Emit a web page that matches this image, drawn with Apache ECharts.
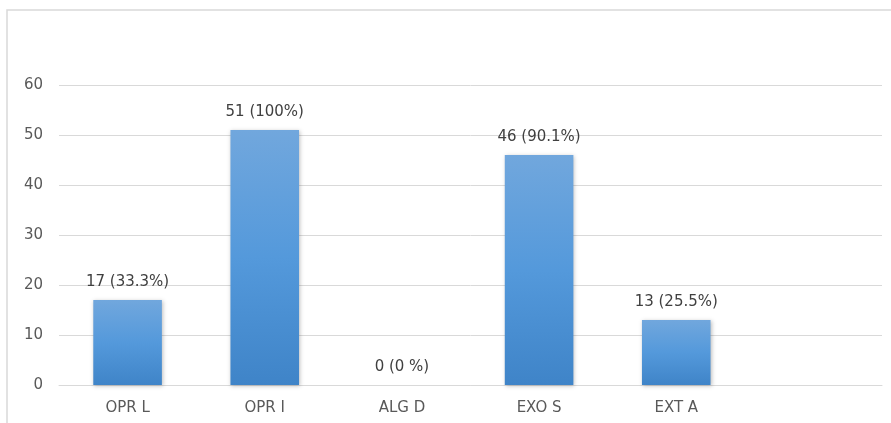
<!DOCTYPE html>
<html>
<head>
<meta charset="utf-8">
<script src="https://cdn.jsdelivr.net/npm/echarts@6/dist/echarts.min.js"></script>
<style>
html,body{margin:0;padding:0;background:#fff;}
#chart{width:891px;height:423px;}
</style>
</head>
<body>
<div id="chart"></div>
<script>
const categories = ['OPR L', 'OPR I', 'ALG D', 'EXO S', 'EXT A', ''];
const counts = [17, 51, 0, 46, 13, null];
const percentLabels = ['33.3%', '100%', '0 %', '90.1%', '25.5%', ''];
const yTicks = { min: 0, max: 60, interval: 10 };

const chart = echarts.init(document.getElementById('chart'));
const font = 'DejaVu Sans';
chart.setOption({
  animation: false,
  grid: { left: 59, right: 9, top: 85, bottom: 38 },
  graphic: [{
    type: 'polyline',
    shape: { points: [[7, 423], [7, 10], [891, 10]] },
    style: { stroke: '#d9d9d9', lineWidth: 1.5, fill: null }
  }],
  xAxis: {
    type: 'category',
    data: categories,
    axisLine: { show: true, lineStyle: { color: '#d9d9d9', width: 1 } },
    axisTick: { show: false },
    axisLabel: { color: '#595959', fontFamily: font, fontSize: 15, margin: 16 }
  },
  yAxis: {
    type: 'value',
    min: yTicks.min, max: yTicks.max, interval: yTicks.interval,
    axisLine: { show: false },
    axisTick: { show: false },
    splitLine: { lineStyle: { color: '#d9d9d9', width: 1 } },
    axisLabel: { color: '#595959', fontFamily: font, fontSize: 15, margin: 16 }
  },
  series: [{
    type: 'bar',
    data: counts,
    barWidth: '50%',
    itemStyle: {
      color: new echarts.graphic.LinearGradient(0, 0, 0, 1, [
        { offset: 0, color: '#71a7dd' },
        { offset: 0.5, color: '#5499db' },
        { offset: 1, color: '#3f84c8' }
      ]),
      shadowColor: 'rgba(0,0,0,0.25)',
      shadowBlur: 4,
      shadowOffsetX: 1,
      shadowOffsetY: 1
    },
    label: {
      show: true,
      position: 'top',
      distance: 10,
      color: '#404040',
      fontFamily: font,
      fontSize: 15,
      formatter: p => p.value == null ? '' : p.value + ' (' + percentLabels[p.dataIndex] + ')'
    }
  }]
});
</script>
</body>
</html>
